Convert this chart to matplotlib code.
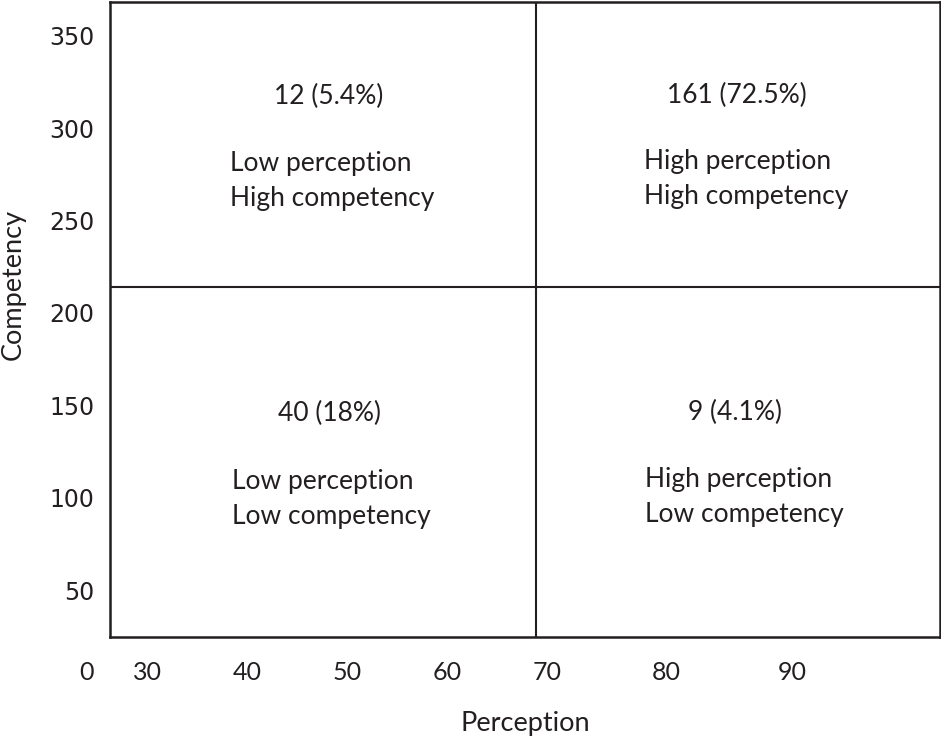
import matplotlib
matplotlib.use("Agg")
import matplotlib.pyplot as plt

# quadrant summary (count, percent)
quad_counts = [12, 161, 40, 9]
quad_pcts = ["5.4%", "72.5%", "18%", "4.1%"]
quad_labels = [
    "Low perception\nHigh competency",
    "High perception\nHigh competency",
    "Low perception\nLow competency",
    "High perception\nLow competency",
]

# axis tick labels as printed (x labels are not evenly spaced in the original)
x_tick_labels = ["30", "40", "50", "60", "70", "80", "90"]
x_tick_pos = [30, 40, 50, 60, 70, 81.9, 94.5]
y_ticks = [50, 100, 150, 200, 250, 300, 350]

x_split = 68.9
y_split = 213.8

INK = "#231f20"
plt.rcParams["font.family"] = ["Lato", "DejaVu Sans"]

fig = plt.figure(figsize=(9.41, 7.38), dpi=100)
ax = fig.add_axes([110 / 941, 1 - 637 / 738, 830 / 941, 635 / 738])

ax.set_xlim(26.3, 109.3)
ax.set_ylim(24.7, 368.2)

for s in ax.spines.values():
    s.set_linewidth(1.8)
    s.set_color(INK)

ax.axvline(x_split, color=INK, lw=1.5)
ax.axhline(y_split, color=INK, lw=1.5)

ax.set_xticks(x_tick_pos)
ax.set_xticklabels(x_tick_labels, fontsize=18, color=INK)
ax.set_yticks(y_ticks)
ax.set_yticklabels([str(v) for v in y_ticks], fontsize=17, color=INK,
                   family="DejaVu Sans")
ax.tick_params(axis="x", length=0, pad=17)
ax.tick_params(axis="y", length=0, pad=11)

# origin label, sitting on the same row as the x tick labels
ax.annotate("0", xy=(24, 0), xycoords=ax.get_xaxis_transform(),
            xytext=(0, -17), textcoords="offset points",
            fontsize=18, color=INK, ha="center", va="top",
            annotation_clip=False)

ax.set_xlabel("Perception", fontsize=19.5, color=INK, labelpad=20)
ax.set_ylabel("Competency", fontsize=19.5, color=INK, labelpad=17)
ax.yaxis.label.set_y(0.555)

# text anchors per quadrant: (count x centre, count y, label left x, label y)
count_xy = [(48.2, 317.0), (89.0, 317.6), (48.2, 145.5), (88.8, 146.1)]
label_xy = [(38.3, 271.4), (79.7, 272.5), (38.5, 99.3), (79.8, 100.4)]

for i in range(4):
    cx, cy = count_xy[i]
    ax.text(cx, cy, f"{quad_counts[i]} ({quad_pcts[i]})", fontsize=19,
            color=INK, ha="center", va="center")
    lx, ly = label_xy[i]
    ax.text(lx, ly, quad_labels[i], fontsize=19, color=INK, ha="left",
            va="center", linespacing=1.52)

fig.savefig("out.png", dpi=100)
